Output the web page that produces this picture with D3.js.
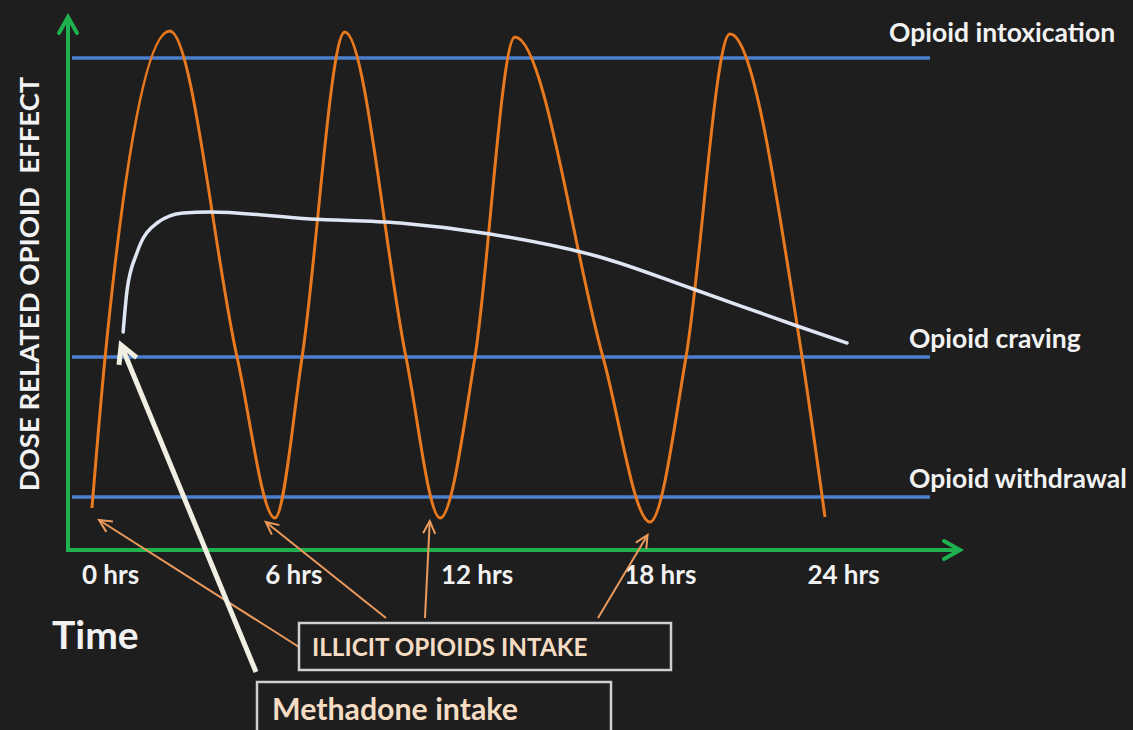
<!DOCTYPE html>
<html>
<head>
<meta charset="utf-8">
<title>Opioid effect over time</title>
<script src="https://cdn.jsdelivr.net/npm/d3@7"></script>
<style>
  body { margin: 0; background: #1e1e1e; }
  svg text { font-family: Lato, "Open Sans", sans-serif; font-weight: bold; }
</style>
</head>
<body>
<svg id="chart"></svg>
<script>
// levels (horizontal reference lines)
const levelNames = ["Opioid intoxication", "Opioid craving", "Opioid withdrawal"]
const levelValues = [98.4, 38.6, 10.6]

// illicit opioid curve: hours / effect
const illicitHours = [-0.59, -0.16, 1.96, 4.16, 5.40, 6.29, 7.69, 9.69, 10.81, 11.95, 13.26, 16.14, 17.68, 18.86, 20.30, 22.66, 23.41]
const illicitEffect = [8.4, 38.6, 103.8, 38.6, 6.4, 38.6, 103.6, 38.6, 6.4, 38.6, 102.6, 38.6, 5.6, 38.6, 103.2, 38.6, 6.6]

// methadone curve
const methHours = [0.43, 0.56, 0.88, 1.54, 2.39, 3.27, 6.55, 9.50, 12.44, 16.04, 19.09, 22.5, 24.13]
const methEffect = [43.6, 52, 59.4, 65.4, 67.4, 67.6, 66.2, 65.4, 63.2, 58.6, 52.2, 44.8, 41.4]

const tickHours = [0, 6, 12, 18, 24]
// hours the "illicit intake" arrows point at
const intakeHours = [-0.36, 5.1, 10.47, 17.6]

const width = 1133, height = 730
const svg = d3.select("#chart").attr("width", width).attr("height", height)

svg.append("rect").attr("width", width).attr("height", height).attr("fill", "#1e1e1e")

const x = d3.scaleLinear().domain([0, 24]).range([110, 843])
const y = d3.scaleLinear().domain([0, 100]).range([550, 50])

const green = "#1fb14f", blue = "#4d7fcf", orange = "#e8791f"

// level lines + labels
const levels = levelNames.map((n, i) => ({ name: n, v: levelValues[i] }))
svg.append("g").selectAll("line")
    .data(levels).enter().append("line")
    .attr("x1", 72).attr("x2", 930)
    .attr("y1", d => y(d.v)).attr("y2", d => y(d.v))
    .attr("stroke", blue).attr("stroke-width", 3.5)

svg.append("g").selectAll("text")
    .data(levels).enter().append("text")
    .attr("x", (d, i) => i === 0 ? 889 : 909)
    .attr("y", (d, i) => y(d.v) - (i === 0 ? 16 : 9))
    .attr("fill", "#f2f2f2").attr("font-size", 26.5)
    .text(d => d.name)

// illicit curve
const illicit = illicitHours.map((h, i) => [h, illicitEffect[i]])
svg.append("path")
    .datum(illicit)
    .attr("d", d3.line().x(d => x(d[0])).y(d => y(d[1])).curve(d3.curveMonotoneX))
    .attr("fill", "none").attr("stroke", orange).attr("stroke-width", 3)

// methadone curve
const meth = methHours.map((h, i) => [h, methEffect[i]])
svg.append("path")
    .datum(meth)
    .attr("d", d3.line().x(d => x(d[0])).y(d => y(d[1])).curve(d3.curveMonotoneX))
    .attr("fill", "none").attr("stroke", "#dfe5f3").attr("stroke-width", 3.5)
    .attr("stroke-linecap", "round")

// axes (green, with arrow heads)
svg.append("line").attr("x1", 68).attr("x2", 68).attr("y1", 552).attr("y2", 18)
    .attr("stroke", green).attr("stroke-width", 4)
svg.append("path").attr("d", "M59,33L68,17L77,33")
    .attr("fill", "none").attr("stroke", green).attr("stroke-width", 4).attr("stroke-linecap", "round")
svg.append("line").attr("x1", 66).attr("x2", 958).attr("y1", 550).attr("y2", 550)
    .attr("stroke", green).attr("stroke-width", 4)
svg.append("path").attr("d", "M944,541L960,550L944,559")
    .attr("fill", "none").attr("stroke", green).attr("stroke-width", 4).attr("stroke-linecap", "round")

const xAxis = svg.append("g")
    .attr("transform", "translate(0,550)")
    .call(d3.axisBottom(x).tickValues(tickHours).tickSize(0).tickPadding(16).tickFormat(d => d + " hrs"))
xAxis.select(".domain").remove()
xAxis.selectAll("text").attr("fill", "#f2f2f2").attr("font-size", 26)
    .style("font-family", "Lato, sans-serif").style("font-weight", "bold")

// axis titles
svg.append("text")
    .attr("transform", "translate(39,284) rotate(-90)")
    .attr("text-anchor", "middle")
    .attr("fill", "#f2f2f2").attr("font-size", 27.5)
    .attr("xml:space", "preserve")
    .text("DOSE RELATED OPIOID  EFFECT")

svg.append("text").attr("x", 52).attr("y", 649)
    .attr("fill", "#f2f2f2").attr("font-size", 39).text("Time")

// illicit intake annotation
const arrowCol = "#ec9a5c"
const starts = [[299, 647], [386, 618], [425, 618], [598, 618]]
const tips = intakeHours.map((h, i) => [x(h), [520, 522, 521, 535][i]])
tips.forEach((t, i) => {
    const s = starts[i]
    const ang = Math.atan2(s[1] - t[1], s[0] - t[0])
    const L = 14, a = 0.45
    svg.append("line").attr("x1", s[0]).attr("y1", s[1]).attr("x2", t[0]).attr("y2", t[1])
        .attr("stroke", arrowCol).attr("stroke-width", 2)
    svg.append("path")
        .attr("d", `M${t[0] + L * Math.cos(ang - a)},${t[1] + L * Math.sin(ang - a)}L${t[0]},${t[1]}L${t[0] + L * Math.cos(ang + a)},${t[1] + L * Math.sin(ang + a)}`)
        .attr("fill", "none").attr("stroke", arrowCol).attr("stroke-width", 2)
})

// methadone arrow
const mTip = [x(methHours[0]) - 2, y(methEffect[0]) + 13]
const mStart = [256, 672]
const mAng = Math.atan2(mStart[1] - mTip[1], mStart[0] - mTip[0])
svg.append("line").attr("x1", mStart[0]).attr("y1", mStart[1]).attr("x2", mTip[0]).attr("y2", mTip[1])
    .attr("stroke", "#f1efe2").attr("stroke-width", 5)
svg.append("path")
    .attr("d", `M${mTip[0] + 20 * Math.cos(mAng - 0.5)},${mTip[1] + 20 * Math.sin(mAng - 0.5)}L${mTip[0]},${mTip[1]}L${mTip[0] + 20 * Math.cos(mAng + 0.5)},${mTip[1] + 20 * Math.sin(mAng + 0.5)}`)
    .attr("fill", "none").attr("stroke", "#f1efe2").attr("stroke-width", 5)

// boxes
svg.append("rect").attr("x", 299).attr("y", 623).attr("width", 372).attr("height", 47)
    .attr("fill", "#1e1e1e").attr("stroke", "#cfcfcf").attr("stroke-width", 2.5)
svg.append("text").attr("x", 312).attr("y", 656)
    .attr("fill", "#f5dcc3").attr("font-size", 24.3).text("ILLICIT OPIOIDS INTAKE")

svg.append("rect").attr("x", 257).attr("y", 682).attr("width", 354).attr("height", 70)
    .attr("fill", "#1e1e1e").attr("stroke", "#cfcfcf").attr("stroke-width", 2.5)
svg.append("text").attr("x", 272).attr("y", 720)
    .attr("fill", "#f5dcc3").attr("font-size", 30.3).text("Methadone intake")
</script>
</body>
</html>
